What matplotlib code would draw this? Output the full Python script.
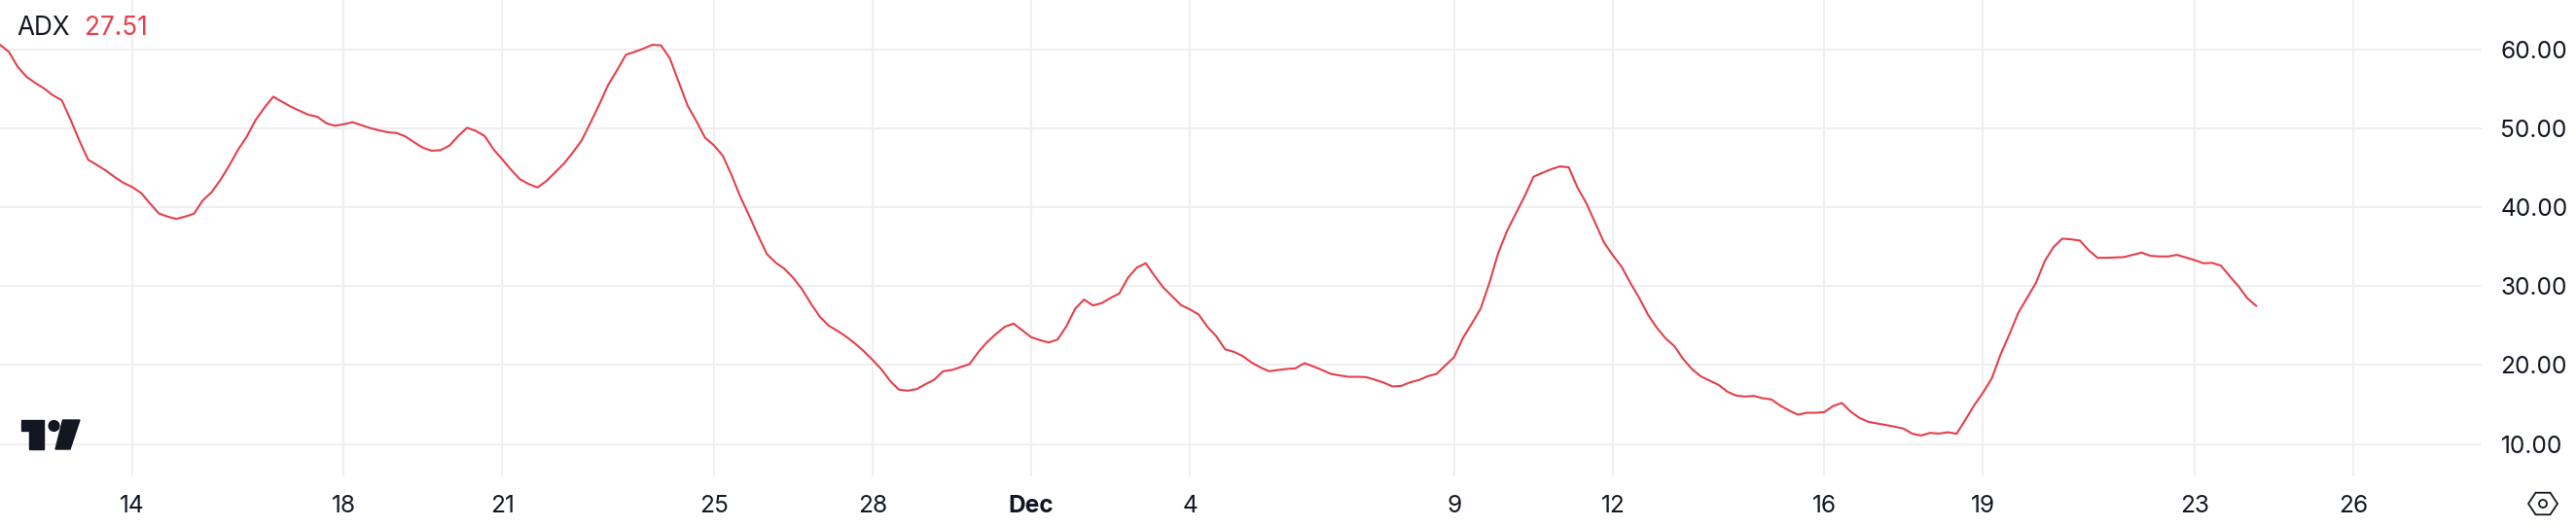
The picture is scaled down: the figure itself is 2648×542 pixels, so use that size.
import matplotlib
matplotlib.use("Agg")
import matplotlib.pyplot as plt
from matplotlib.transforms import IdentityTransform
from matplotlib.patches import Polygon, Circle
import pandas as pd
import numpy as np

# ---- data (4h ADX readings, Nov 11 12:00 -> Dec 24 04:00) ----
adx_nov11_18 = [60.57, 59.67, 57.78, 56.51, 55.73, 55.03, 54.17, 53.55, 51.09, 48.42,
                46.0, 45.34, 44.64, 43.82, 43.08, 42.55, 41.8, 40.49, 39.22, 38.81,
                38.52, 38.81, 39.18, 40.86, 41.89, 43.45, 45.26, 47.27, 48.95, 51.05,
                52.61, 54.0, 53.35, 52.73, 52.2, 51.7, 51.46, 50.64, 50.31, 50.51,
                50.76, 50.39, 50.02, 49.73, 49.49]
adx_nov18_26 = [49.4, 48.95, 48.21, 47.52, 47.15, 47.23, 47.8, 49.03, 50.06, 49.65,
                49.0, 47.31, 46.04, 44.72, 43.53, 42.92, 42.5, 43.33, 44.44, 45.54,
                46.94, 48.46, 50.72, 53.02, 55.48, 57.33, 59.3, 59.67, 60.08, 60.57,
                60.49, 58.85, 55.89, 52.9, 50.92, 48.79, 47.84, 46.53, 44.07, 41.31,
                38.93, 36.43, 34.09, 32.98]
adx_nov26_dec03 = [32.2, 31.05, 29.61, 27.8, 26.16, 25.01, 24.35, 23.61, 22.75, 21.77,
                   20.66, 19.47, 17.99, 16.88, 16.76, 16.96, 17.58, 18.15, 19.22, 19.38,
                   19.75, 20.12, 21.64, 22.92, 23.94, 24.85, 25.26, 24.39, 23.53, 23.16,
                   22.87, 23.24, 24.93, 27.15, 28.3, 27.56, 27.84, 28.5, 29.08, 31.09,
                   32.36, 32.9, 31.3, 29.82]
adx_dec03_10 = [28.71, 27.6, 27.06, 26.41, 24.85, 23.66, 22.01, 21.68, 21.15, 20.33,
                19.71, 19.22, 19.38, 19.51, 19.59, 20.25, 19.84, 19.38, 18.89, 18.69,
                18.52, 18.52, 18.48, 18.15, 17.78, 17.29, 17.37, 17.82, 18.11, 18.6,
                18.89, 19.96, 21.03, 23.45, 25.26, 27.15, 30.43, 34.21, 37.0, 39.22,
                41.4, 43.86, 44.35, 44.8]
adx_dec10_18 = [45.17, 45.05, 42.46, 40.49, 38.03, 35.52, 33.92, 32.44, 30.39, 28.5,
                26.37, 24.72, 23.37, 22.38, 20.74, 19.47, 18.56, 18.03, 17.49, 16.63,
                16.14, 16.02, 16.1, 15.81, 15.65, 14.87, 14.25, 13.72, 13.96, 13.96,
                14.05, 14.83, 15.2, 14.09, 13.31, 12.81, 12.61, 12.4, 12.2, 11.95,
                11.3, 11.09, 11.42, 11.33]
adx_dec18_24 = [11.5, 11.3, 13.06, 14.91, 16.51, 18.32, 21.36, 23.9, 26.61, 28.5,
                30.39, 33.14, 34.95, 36.02, 35.93, 35.77, 34.54, 33.59, 33.59, 33.63,
                33.68, 33.96, 34.25, 33.84, 33.76, 33.76, 33.96, 33.63, 33.31, 32.9,
                32.94, 32.6, 31.25, 29.98, 28.46, 27.51]

adx = (adx_nov11_18 + adx_nov18_26 + adx_nov26_dec03 + adx_dec03_10
       + adx_dec10_18 + adx_dec18_24)
start_time = "2024-11-11 12:00"
last_value_label = "27.51"

x_tick_dates = ["2024-11-14", "2024-11-18", "2024-11-21", "2024-11-25", "2024-11-28",
                "2024-12-01", "2024-12-04", "2024-12-09", "2024-12-12", "2024-12-16",
                "2024-12-19", "2024-12-23", "2024-12-26"]
x_tick_labels = ["14", "18", "21", "25", "28", "Dec", "4", "9", "12", "16", "19", "23", "26"]
y_ticks = [10, 20, 30, 40, 50, 60]

# ---- style ----
plt.rcParams['font.family'] = ['Inter', 'DejaVu Sans']
TEXT = '#131722'
RED = '#E5404C'
GRID = '#EFEFEF'
FS = 17.6
FS_LEG = 18.8

W, H = 2648, 542
fig = plt.figure(figsize=(W / 100, H / 100), dpi=100)
fig.patch.set_facecolor('white')
ax = fig.add_axes([0, 52 / H, 2551 / W, 1 - 52 / H])

times = pd.date_range(start_time, periods=len(adx), freq="4h")
ax.plot(times, adx, color=RED, lw=1.5, solid_joinstyle='round', zorder=3)

ax.set_xlim(pd.Timestamp("2024-11-11 11:58"), pd.Timestamp("2024-12-28 10:20"))
ax.set_ylim(5.9, 66.24)

ax.set_yticks(y_ticks)
ax.set_yticklabels([f"{v:.2f}" for v in y_ticks])
ax.yaxis.tick_right()
ax.set_xticks(pd.to_datetime(x_tick_dates))
ax.set_xticklabels(x_tick_labels)
for lbl in ax.get_xticklabels():
    if lbl.get_text() == "Dec":
        lbl.set_fontweight('bold')

ax.tick_params(axis='y', length=0, pad=14, labelsize=FS, labelcolor=TEXT)
ax.tick_params(axis='x', length=0, pad=14, labelsize=FS, labelcolor=TEXT)
for s in ax.spines.values():
    s.set_visible(False)
ax.grid(True, color=GRID, lw=1.5, zorder=0)
ax.set_axisbelow(True)

# legend text
fig.text(17 / W, 1 - 29 / H, "ADX", color=TEXT, fontsize=FS_LEG, va='center', ha='left')
fig.text(87 / W, 1 - 29 / H, last_value_label, color=RED, fontsize=FS_LEG, va='center', ha='left')

# TradingView logo (pixel coords, origin top-left converted)
def P(x, y):
    return (x, H - y)

tr = IdentityTransform()
logo = [
    Polygon([P(22, 432), P(45, 432), P(45, 462), P(30, 462), P(30, 443), P(22, 443)],
            closed=True, transform=tr, color=TEXT),
    Circle(P(55.5, 438.0), 5.4, transform=tr, color=TEXT),
    Polygon([P(64.5, 432), P(82, 432), P(72, 462), P(57, 462)], closed=True,
            transform=tr, color=TEXT),
]
for p in logo:
    fig.add_artist(p)

# settings hexagon icon
cx, cy = 2614, 518
ang = np.deg2rad(np.arange(0, 360, 60))
hexpts = [P(cx + 15 * np.cos(a), cy + 13 * np.sin(a)) for a in ang]
fig.add_artist(Polygon(hexpts, closed=True, fill=False, ec=TEXT, lw=1.3, transform=tr))
fig.add_artist(Circle(P(cx, cy), 4, fill=False, ec=TEXT, lw=1.3, transform=tr))

fig.savefig("out.png", dpi=100, facecolor='white')
